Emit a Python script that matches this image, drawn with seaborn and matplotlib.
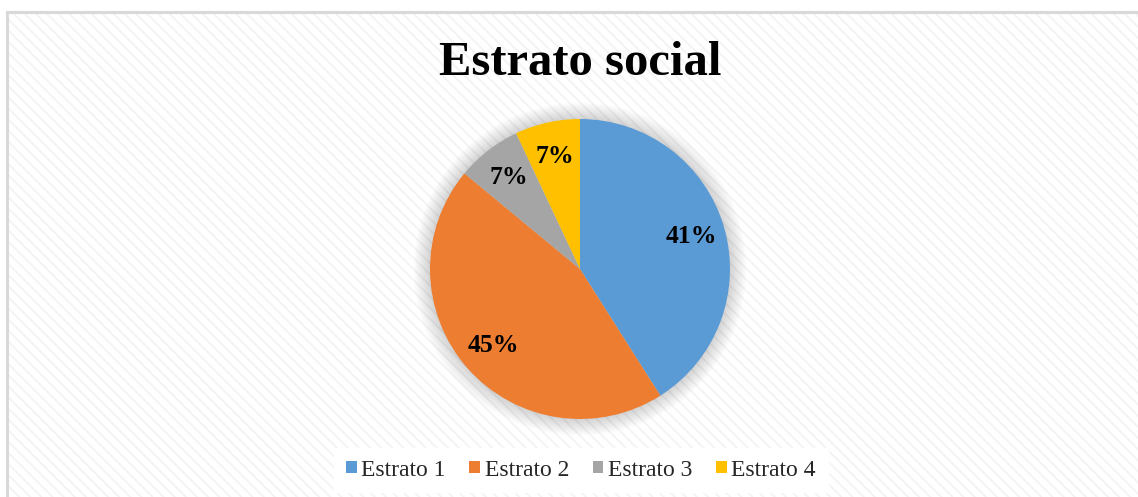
import matplotlib
matplotlib.use("Agg")
import matplotlib.pyplot as plt
import seaborn as sns
from matplotlib.patches import Rectangle, Circle, Patch

categories = ["Estrato 1", "Estrato 2", "Estrato 3", "Estrato 4"]
values = [41, 45, 7, 7]
colors = ["#5B9BD5", "#ED7D31", "#A5A5A5", "#FFC000"]
title = "Estrato social"

sns.set_style("white")
plt.rcParams["font.family"] = ["Liberation Serif", "DejaVu Serif"]
plt.rcParams["hatch.linewidth"] = 1.4

W, H = 1138, 497
fig = plt.figure(figsize=(W / 100, H / 100), dpi=100)
fig.patch.set_facecolor("white")

# background axes: chart-area with diagonal texture and border
bgax = fig.add_axes([0, 0, 1, 1], zorder=-10)
bgax.set_xlim(0, W)
bgax.set_ylim(H, 0)
bgax.axis("off")
bgax.add_patch(Rectangle((7.5, 11.5), W, H, facecolor="white", edgecolor="#f4f4f4",
                         hatch="\\" * 3, linewidth=0))
bgax.plot([7.5, 7.5, W + 5], [H + 5, 11.5, 11.5], color="#d9d9d9", lw=2.2,
          solid_joinstyle="miter")

cx, cy, r = 580, 269, 150
ax = fig.add_axes([(cx - r) / W, (H - cy - r) / H, 2 * r / W, 2 * r / H], zorder=1)
ax.patch.set_alpha(0)

# soft shadow
for k in range(14):
    ax.add_patch(Circle((0, 0), 1.0 + 0.11 * (14 - k) / 14, color="#000000",
                        alpha=0.010, lw=0, zorder=0, clip_on=False))

palette = sns.color_palette(colors)
wedges, texts, autotexts = ax.pie(
    values, colors=palette, startangle=90, counterclock=False,
    autopct=lambda p: f"{p:.0f}%", pctdistance=0.77,
    textprops=dict(fontsize=18.5, fontweight="bold", color="black"),
    wedgeprops=dict(linewidth=0), radius=1.0,
)
for w in wedges:
    w.set_zorder(2)
for t in autotexts:
    t.set_zorder(3)
ax.set_xlim(-1, 1)
ax.set_ylim(-1, 1)
ax.axis("off")

fig.text(cx / W, 1 - 75 / H, title, ha="center", va="baseline",
         fontsize=35, fontweight="bold", color="black")

handles = [Patch(facecolor=c, edgecolor="none") for c in colors]
leg = fig.legend(handles, categories, loc="center", ncol=4,
                 bbox_to_anchor=(581 / W, 1 - 470 / H), frameon=True,
                 fontsize=17, handlelength=0.45, handleheight=0.45,
                 handletextpad=0.2, columnspacing=1.0, borderpad=0.5,
                 borderaxespad=0, fancybox=False)
leg.get_frame().set_facecolor("white")
leg.get_frame().set_edgecolor("white")
leg.get_frame().set_alpha(1)

fig.savefig("out.png", dpi=100)
